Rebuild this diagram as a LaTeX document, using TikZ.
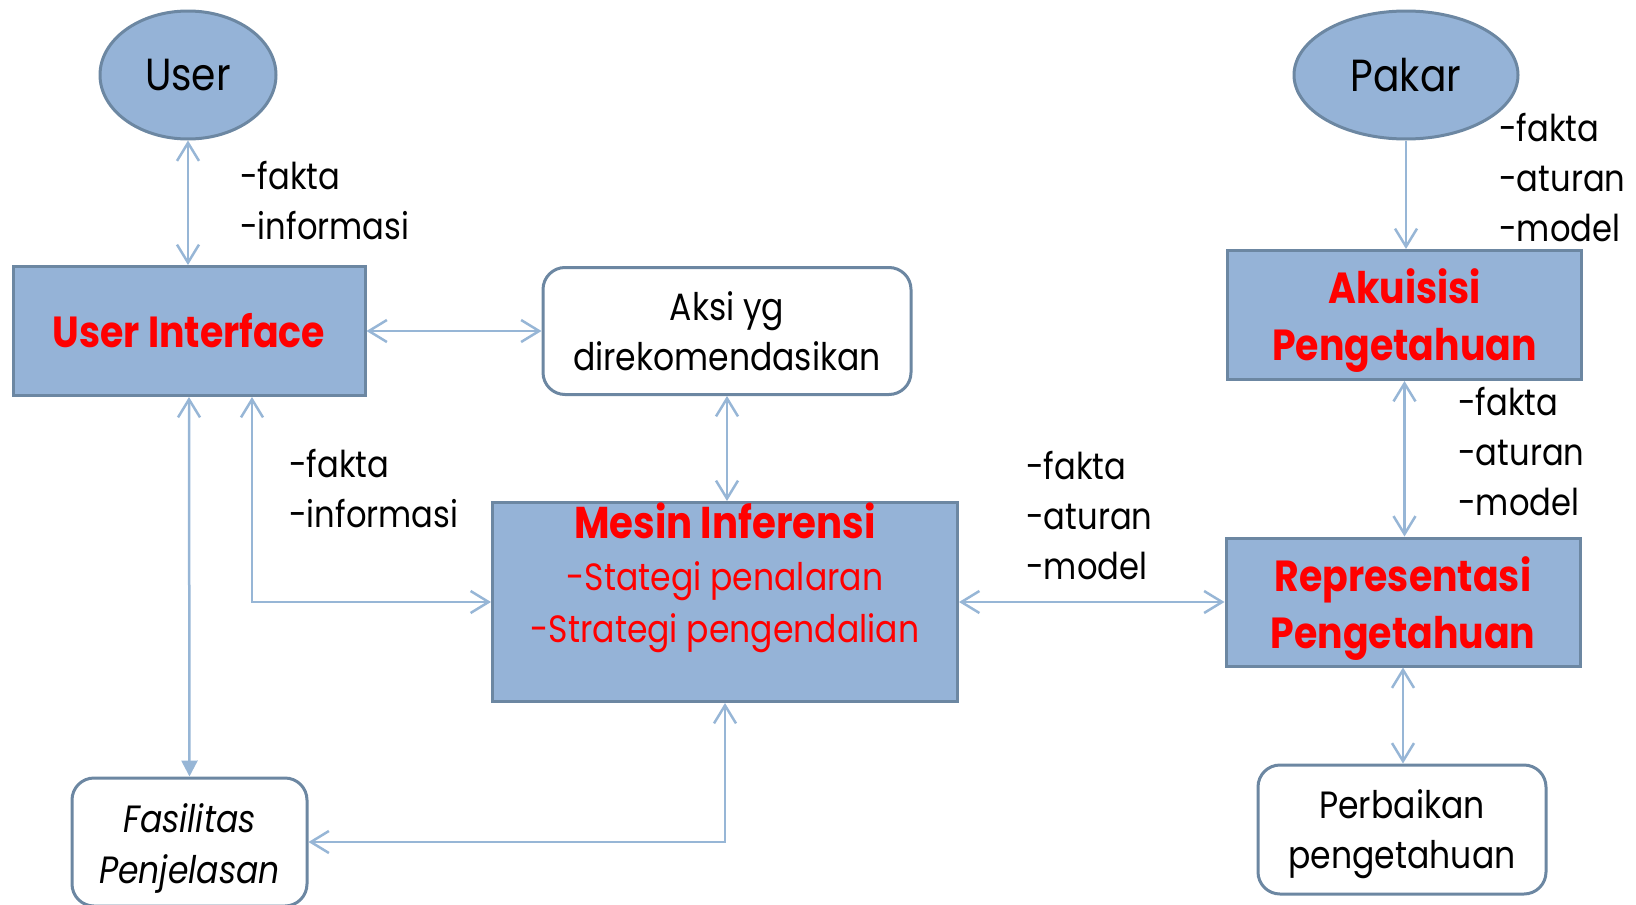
\documentclass[tikz,border=0pt]{standalone}
\usepackage{fontspec}
\setmainfont{Poppins}[FakeStretch=0.87]
\usetikzlibrary{arrows.meta,shapes.geometric,calc}
\definecolor{boxfill}{HTML}{95B3D7}
\definecolor{boxline}{HTML}{6C87A2}
\definecolor{wire}{HTML}{97B6D6}
\definecolor{hot}{HTML}{FF0000}
\begin{document}
\begin{tikzpicture}[x=1pt,y=-1pt,
  regular/.style={font=\fontsize{38}{50}\selectfont},
  heavy/.style={text=hot, font=\bfseries\fontsize{43.5}{57}\selectfont},
  actor/.style={ellipse, draw=boxline, line width=3pt, fill=boxfill, inner sep=0pt,
    font=\fontsize{45}{50}\selectfont},
  module/.style={rectangle, draw=boxline, line width=3pt, fill=boxfill, inner sep=0pt},
  plainbox/.style={rectangle, rounded corners=22pt, draw=boxline, line width=3pt, fill=white,
    inner sep=0pt},
  boxtext/.style={anchor=base, align=center, inner sep=0pt},
  note/.style={anchor=base west, align=left, inner sep=0pt, font=\fontsize{37}{50}\selectfont},
  barb/.tip={Straight Barb[length=18pt,width=22pt]},
  link/.style={draw=wire, line width=2.5pt, barb-barb},
  oneway/.style={draw=wire, line width=2.5pt, -barb},
  downlink/.style={draw=wire, line width=2.5pt, barb-{Triangle[length=16pt,width=16pt]}}
]
\useasboundingbox (0,0) rectangle (1636,905);

% actors
\node[actor, minimum width=176pt, minimum height=128pt] (user) at (188,75) {User};
\node[actor, minimum width=224pt, minimum height=128pt] (pakar) at (1406,75) {Pakar};

% main modules
\node[module, minimum width=352pt, minimum height=129pt, heavy] (ui) at (189,331) {User Interface};
\node[module, minimum width=465pt, minimum height=199pt] (mesin) at (725,602) {};
\node[boxtext, text=hot, font=\fontsize{38}{52}\selectfont] (mesintxt) at (725,642)
  {{\bfseries\fontsize{44.5}{52}\selectfont Mesin Inferensi}\\-Stategi penalaran\\-Strategi pengendalian};
\node[module, minimum width=354pt, minimum height=129pt] (aku) at (1404.5,315) {};
\node[boxtext, heavy] (akutxt) at (1404.5,360) {Akuisisi\\Pengetahuan};
\node[module, minimum width=354pt, minimum height=128pt] (rep) at (1403,602) {};
\node[boxtext, heavy] (reptxt) at (1403,648) {Representasi\\Pengetahuan};

% plain boxes
\node[plainbox, minimum width=368pt, minimum height=127pt] (aksi) at (727,331) {};
\node[boxtext, regular] (aksitxt) at (727,370) {Aksi yg\\direkomendasikan};
\node[plainbox, minimum width=288pt, minimum height=129pt] (perb) at (1402,829.5) {};
\node[boxtext, regular] (perbtxt) at (1402,868) {Perbaikan\\pengetahuan};
\node[plainbox, minimum width=235pt, minimum height=128pt] (fas) at (189.5,842) {};
\node[boxtext, font=\itshape\fontsize{38}{51}\selectfont] (fastxt) at (189.5,883) {Fasilitas\\Penjelasan};

% labels
\node[note] (lab1) at (240,239) {-fakta\\-informasi};
\node[note] (lab2) at (289,527) {-fakta\\-informasi};
\node[note] (lab3) at (1026,579) {-fakta\\-aturan\\-model};
\node[note] (lab4) at (1499,241) {-fakta\\-aturan\\-model};
\node[note] (lab5) at (1458,515) {-fakta\\-aturan\\-model};

% connectors
\draw[link] (user.south) -- (user.south |- ui.north);
\draw[link] (ui.east) -- (aksi.west);
\draw[link] (aksi.south) -- (aksi.south |- mesin.north);
\draw[downlink] (ui.south) -- (fas.north);
\coordinate (uiR) at ($(ui.south)+(63,0)$);
\draw[link] (uiR) |- (mesin.west);
\draw[link] (mesin.south) |- (fas.east);
\draw[link] (mesin.east) -- (rep.west);
\draw[oneway] (pakar.south) -- (pakar.south |- aku.north);
\draw[link] (aku.south) -- (aku.south |- rep.north);
\draw[link] (rep.south) -- (rep.south |- perb.north);
\end{tikzpicture}
\end{document}
